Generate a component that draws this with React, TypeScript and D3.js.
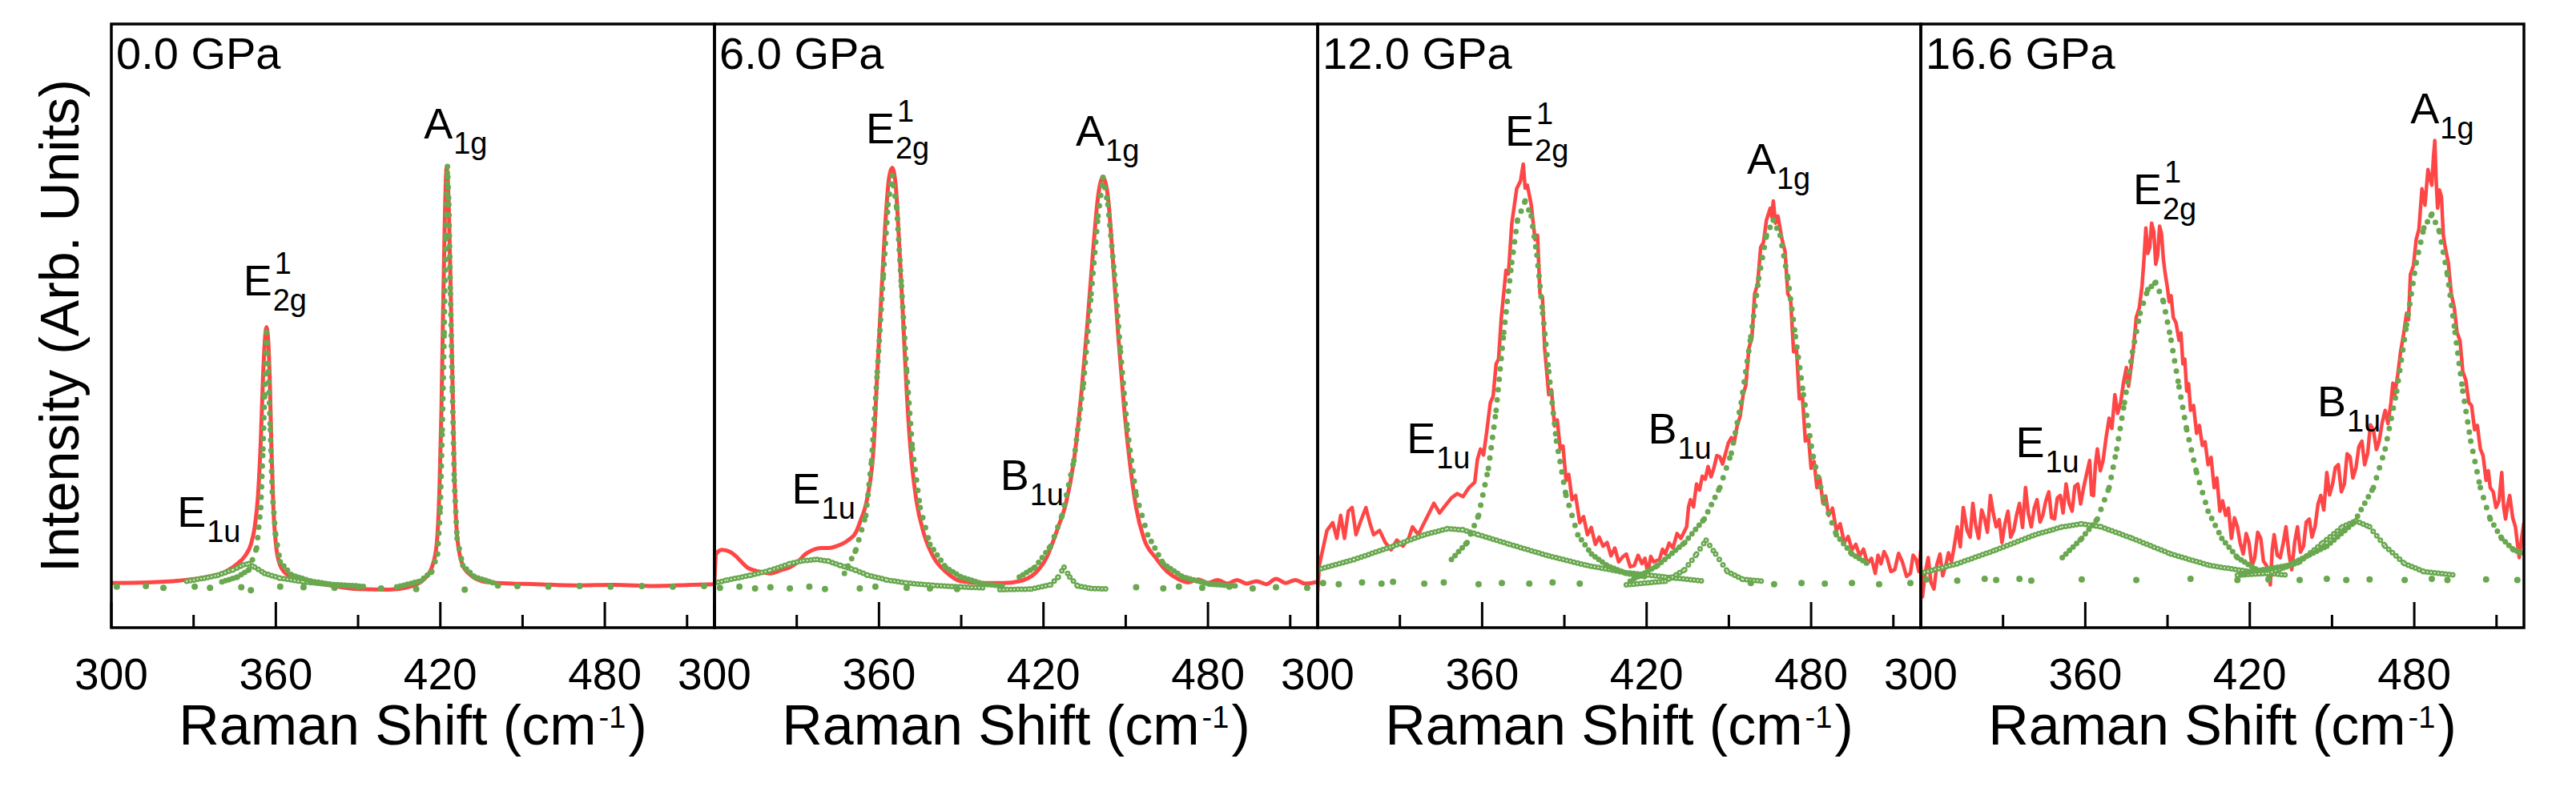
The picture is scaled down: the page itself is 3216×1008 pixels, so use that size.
import React from "react";
import * as d3 from "d3";

type Pt = [number, number];

const PRESSURES = ["0.0 GPa", "6.0 GPa", "12.0 GPa", "16.6 GPa"];
const MAJOR_TICKS = [300, 360, 420, 480];
const MINOR_TICKS = [330, 390, 450, 510];

// ---- 0.0 GPa ----
const spec0: Pt[] = [
  [300, 7.4], [313.3, 7.5], [324.7, 7.8], [334.6, 8.4], [341.7, 9.3], [346.0, 10.6], [348.8, 11.9],
  [350.9, 13.8], [352.3, 16.7], [353.5, 21.9], [354.5, 30.9], [355.3, 41.2], [356.0, 47.6], [356.6, 49.8],
  [357.3, 46.9], [357.9, 39.2], [358.4, 29.6], [359.1, 19.9], [360.1, 13.5], [361.6, 10.3], [364.4, 8.7],
  [370.1, 7.7], [378.6, 7.1], [389.9, 6.4], [401.3, 6.3], [409.8, 6.9], [414.0, 8.0], [416.9, 10.0],
  [418.6, 13.5], [419.7, 23.2], [420.4, 36.0], [421.0, 52.1], [421.6, 66.9], [422.3, 76.2], [423.1, 69.5],
  [423.8, 55.3], [424.5, 39.2], [425.2, 24.4], [426.2, 14.8], [428.2, 10.3], [431.1, 8.7], [435.3, 7.7],
  [441.0, 7.4], [455.2, 7.2], [469.4, 7.0], [483.5, 7.1], [497.7, 6.9], [511.9, 7.1], [520, 7.2],
];
const e1u0: Pt[] = [
  [327.5, 7.7], [333.9, 8.2], [338.9, 8.7], [344.5, 9.6], [348.1, 10.4], [350.2, 10.6], [352.3, 10.0],
  [355.9, 9.0], [361.6, 8.2], [370.1, 7.6], [378.6, 7.2], [389.9, 6.9],
];
const e2g0: Pt[] = [
  [340.3, 7.6], [346.0, 8.4], [350.2, 9.6], [353.0, 13.2], [354.5, 19.9], [355.3, 29.6], [355.9, 38.6],
  [356.6, 48.9], [357.3, 42.4], [358.0, 32.8], [358.7, 22.5], [359.9, 15.4], [361.6, 10.9], [365.8, 8.7],
  [372.9, 7.7], [381.4, 7.1], [392.8, 6.8],
];
const a1g0: Pt[] = [
  [404.1, 6.75], [412.6, 7.7], [416.9, 9.3], [419.0, 12.2], [420.0, 19.9], [420.7, 32.8], [421.4, 48.9],
  [422.0, 65.0], [422.6, 76.4], [423.1, 70.1], [423.7, 55.3], [424.4, 39.2], [425.1, 24.4], [426.1, 14.8],
  [428.2, 10.3], [432.5, 8.4], [439.6, 7.4],
];
const base0: Pt[] = [
  [302.0, 6.8], [312.6, 6.9], [319.0, 6.6], [330.4, 6.8], [336.0, 6.6], [347.4, 6.7], [350.9, 6.2],
  [361.6, 6.8], [370.1, 6.7], [381.4, 6.6], [389.9, 6.8], [398.4, 6.5], [411.2, 6.4], [428.9, 6.3],
  [441.0, 7.0], [448.1, 6.9], [459.4, 6.8], [470.8, 6.9], [482.1, 6.8], [493.5, 6.9], [504.8, 6.8], [516.2, 6.9],
];

// ---- 6.0 GPa ----
const spec1: Pt[] = [
  [300, 7.7], [300.6, 12.2], [302.7, 12.9], [305.5, 12.6], [307.7, 11.9], [309.8, 10.9], [311.9, 10.0],
  [316.2, 9.3], [320.4, 9.0], [324.7, 9.6], [327.5, 10.0], [330.4, 10.9], [333.2, 12.2], [336.0, 12.9],
  [338.9, 13.2], [341.7, 13.2], [344.5, 13.5], [348.8, 14.5], [351.6, 15.8], [353.0, 17.4], [355.9, 21.9],
  [358.0, 29.6], [359.4, 42.4], [360.9, 55.3], [362.3, 66.9], [363.7, 74.6], [364.8, 76.2], [366.1, 73.3],
  [367.2, 65.0], [368.7, 52.1], [370.1, 39.2], [371.5, 29.6], [373.6, 21.2], [376.5, 15.4], [380.0, 11.6],
  [384.3, 9.3], [389.9, 7.7], [398.4, 7.4], [405.5, 7.4], [411.2, 7.7], [416.9, 9.0], [421.1, 11.6],
  [425.4, 16.7], [428.2, 20.6], [431.1, 27.7], [433.9, 39.2], [436.0, 50.2], [438.2, 63.0], [439.9, 71.4],
  [441.7, 74.6], [443.5, 71.4], [445.2, 61.7], [447.4, 47.6], [449.5, 36.0], [451.6, 27.0], [453.8, 19.9],
  [456.6, 14.8], [460.9, 11.6], [465.1, 9.3], [469.4, 8.0], [472.9, 7.5], [476.5, 8.0], [480.0, 7.4],
  [483.5, 7.9], [487.1, 7.3], [490.6, 7.9], [494.2, 7.3], [497.7, 7.7], [501.3, 7.2], [504.8, 8.1],
  [508.4, 7.4], [511.9, 7.9], [515.5, 7.3], [520, 7.6],
];
const e1u1: Pt[] = [
  [300, 7.4], [304.8, 7.9], [313.3, 8.7], [320.4, 9.5], [327.5, 10.6], [332.5, 11.1], [337.4, 11.3],
  [341.7, 11.0], [346.0, 10.3], [351.6, 9.5], [355.9, 8.7], [363.0, 7.9], [370.1, 7.4], [380.0, 7.0],
  [389.9, 6.75], [398.4, 6.6],
];
const e2g1: Pt[] = [
  [347.4, 9.0], [351.6, 12.9], [355.2, 18.6], [357.3, 27.7], [359.4, 42.4], [361.6, 58.5], [363.3, 70.1],
  [364.8, 74.9], [366.5, 69.5], [368.2, 56.6], [370.1, 42.4], [372.2, 29.6], [375.0, 19.9], [378.6, 13.8],
  [384.3, 10.0], [389.9, 8.4], [398.4, 7.2], [405.5, 6.9],
];
const b1u1: Pt[] = [
  [404.1, 6.3], [415.5, 6.4], [422.6, 7.1], [425.4, 8.4], [427.5, 10.0], [429.6, 8.4], [432.5, 6.9],
  [437.4, 6.5], [443.8, 6.4],
];
const a1g1: Pt[] = [
  [411.2, 8.4], [416.9, 10.0], [422.6, 13.5], [426.8, 18.6], [431.1, 27.7], [434.6, 40.5], [437.4, 55.3],
  [439.9, 68.2], [441.7, 74.6], [443.5, 70.1], [445.9, 58.5], [448.1, 45.7], [450.6, 32.8], [453.8, 21.9],
  [458.0, 15.4], [463.7, 10.6], [470.8, 8.4], [480.7, 7.2], [490.6, 6.9],
];
const base1: Pt[] = [
  [302.0, 6.6], [309.1, 6.8], [314.8, 6.5], [320.4, 6.7], [327.5, 6.5], [334.6, 6.8], [340.3, 6.4],
  [353.0, 6.5], [358.7, 6.8], [370.1, 6.6], [378.6, 6.5], [388.5, 6.4], [453.8, 6.7], [463.7, 6.5],
  [469.4, 6.8], [477.9, 6.6], [487.8, 6.8], [496.3, 6.5], [504.8, 6.7], [516.2, 6.6],
];

// ---- 12.0 GPa ----
const spec2: Pt[] = [
  [300, 5.8], [300.6, 10.3], [303.4, 16.1], [305.5, 17.4], [307.0, 14.8], [308.4, 18.6], [309.8, 14.8],
  [311.2, 19.3], [312.6, 19.9], [314.0, 15.4], [315.5, 17.4], [317.6, 19.9], [319.0, 17.4], [320.4, 15.4],
  [322.6, 16.1], [324.7, 14.1], [326.8, 12.9], [328.9, 14.5], [331.1, 13.5], [333.2, 14.8], [334.6, 16.7],
  [336.7, 15.4], [338.9, 17.4], [341.0, 19.3], [342.4, 20.6], [344.5, 19.0], [346.7, 20.3], [348.8, 21.5],
  [350.9, 22.2], [353.0, 21.7], [355.2, 23.2], [357.3, 24.1], [358.3, 27.9], [359.4, 29.6], [360.5, 28.6],
  [361.6, 32.2], [363.0, 37.3], [364.0, 38.3], [365.1, 43.7], [366.0, 44.5], [367.0, 51.4], [368.7, 59.2],
  [369.6, 58.6], [370.8, 66.9], [372.6, 72.7], [374.0, 74.0], [375.0, 76.8], [375.7, 72.8], [376.5, 73.3],
  [377.9, 70.1], [379.3, 64.3], [380.2, 65.0], [381.1, 55.3], [382.0, 54.8], [382.8, 46.3], [384.3, 38.6],
  [385.3, 39.4], [386.4, 33.4], [387.4, 34.4], [388.5, 29.6], [389.5, 30.1], [390.6, 24.4], [391.6, 25.4],
  [392.8, 21.2], [394.1, 21.9], [395.6, 17.4], [397.0, 18.4], [398.4, 15.4], [399.8, 16.6], [401.3, 13.8],
  [402.7, 15.0], [404.1, 13.5], [405.6, 14.1], [407.0, 11.9], [408.4, 13.2], [409.8, 10.9], [411.2, 11.7],
  [412.6, 12.2], [414.0, 10.1], [415.5, 10.3], [416.9, 12.0], [418.3, 10.6], [419.4, 11.5], [420.4, 9.0],
  [421.5, 11.8], [422.6, 10.9], [424.7, 11.3], [425.8, 13.0], [426.8, 12.2], [428.2, 14.0], [429.6, 13.2],
  [431.1, 15.6], [432.5, 14.8], [434.6, 16.7], [435.3, 20.0], [436.0, 21.2], [437.1, 20.0], [438.2, 23.8],
  [439.3, 22.8], [440.3, 25.1], [441.4, 24.6], [442.4, 26.7], [443.5, 25.0], [444.5, 26.4], [445.6, 28.5],
  [446.7, 28.3], [447.7, 27.1], [448.8, 28.9], [449.8, 30.6], [450.9, 31.5], [452.0, 30.8], [453.0, 33.4],
  [454.1, 35.0], [455.2, 38.6], [456.2, 40.2], [457.3, 46.3], [458.4, 48.0], [459.4, 55.3], [460.5, 57.0],
  [461.6, 63.0], [462.6, 63.8], [463.7, 67.5], [465.1, 69.5], [465.7, 68.0], [466.2, 70.7], [467.0, 67.0],
  [467.9, 68.2], [469.4, 64.3], [470.5, 62.3], [471.5, 55.3], [472.5, 54.5], [473.6, 45.7], [474.6, 46.6],
  [475.7, 37.9], [476.8, 38.5], [477.9, 30.9], [479.0, 31.8], [480.0, 26.4], [481.1, 27.5], [482.1, 23.2],
  [483.2, 24.8], [484.3, 20.6], [485.3, 21.8], [486.4, 18.6], [487.8, 19.8], [489.2, 16.1], [490.6, 17.2],
  [492.1, 14.1], [493.5, 15.1], [494.9, 12.9], [496.3, 13.8], [497.7, 11.9], [499.1, 13.0], [500.6, 10.6],
  [502.0, 11.5], [503.4, 9.0], [504.4, 12.0], [505.5, 10.6], [506.6, 12.6], [507.7, 11.6], [509.1, 9.3],
  [510.5, 9.6], [511.9, 12.3], [513.3, 10.9], [514.8, 8.5], [516.2, 9.0], [517.2, 12.0], [518.3, 11.3],
  [519.3, 9.3], [520, 12.9],
];
const e1u2: Pt[] = [
  [300, 9.6], [313.3, 11.3], [327.5, 13.5], [338.9, 15.4], [347.4, 16.4], [353.0, 16.2], [358.7, 15.4],
  [370.1, 13.8], [384.3, 11.9], [398.4, 10.3], [412.6, 9.1], [426.8, 8.4], [441.0, 7.7],
];
const e2g2: Pt[] = [
  [348.8, 11.3], [354.5, 14.1], [358.7, 18.6], [362.3, 26.4], [365.1, 36.0], [367.9, 48.9], [370.8, 60.5],
  [372.9, 67.5], [375.7, 70.7], [377.9, 68.2], [380.0, 61.7], [382.1, 52.1], [384.3, 42.4], [387.1, 30.9],
  [390.6, 21.9], [394.9, 15.4], [399.9, 12.2], [405.5, 10.3], [412.6, 9.0], [419.7, 8.4],
];
const b1u2: Pt[] = [
  [412.6, 7.1], [426.8, 7.7], [433.9, 9.6], [438.2, 12.2], [441.7, 14.5], [445.2, 12.2], [449.5, 9.3],
  [455.2, 8.0], [462.3, 7.7],
];
const a1g2: Pt[] = [
  [414.0, 7.7], [424.0, 10.3], [433.9, 14.1], [441.0, 18.0], [446.7, 23.2], [450.9, 28.9], [454.5, 37.3],
  [458.0, 48.2], [460.9, 57.9], [463.7, 65.0], [466.2, 67.5], [468.7, 65.0], [471.5, 57.9], [474.3, 48.2],
  [477.2, 38.6], [480.7, 28.3], [485.0, 20.6], [489.2, 15.4], [494.9, 12.2], [500.6, 10.6],
];
const base2: Pt[] = [
  [302.0, 7.4], [307.7, 7.2], [316.2, 7.5], [323.3, 7.3], [327.5, 7.6], [338.9, 7.3], [346.0, 7.5],
  [358.7, 7.2], [367.2, 7.4], [377.2, 7.3], [385.7, 7.5], [395.6, 7.3], [458.0, 7.4], [466.5, 7.2],
  [476.5, 7.4], [485.0, 7.3], [494.9, 7.4], [504.8, 7.2], [516.2, 7.4],
];

// ---- 16.6 GPa ----
const spec3: Pt[] = [
  [300, 10.3], [300.6, 5.1], [301.6, 9.0], [302.7, 11.6], [303.7, 7.5], [304.8, 6.4], [305.9, 10.5],
  [307.0, 12.2], [308.0, 8.6], [309.1, 10.3], [310.1, 12.4], [311.2, 10.9], [312.2, 13.5], [313.3, 16.7],
  [314.4, 13.4], [315.5, 19.9], [316.9, 16.1], [318.0, 15.0], [319.0, 20.6], [320.0, 17.0], [321.1, 14.8],
  [322.2, 19.5], [323.3, 18.0], [324.3, 15.8], [325.4, 21.9], [326.5, 18.8], [327.5, 16.7], [328.6, 17.9],
  [329.6, 14.1], [330.7, 17.2], [331.8, 19.3], [332.8, 15.0], [333.9, 16.1], [335.0, 18.8], [336.0, 20.6],
  [337.1, 16.6], [338.2, 23.2], [339.2, 19.0], [340.3, 16.7], [341.4, 19.8], [342.4, 21.2], [343.5, 17.5],
  [344.5, 18.6], [345.6, 21.0], [346.7, 22.5], [347.7, 18.2], [348.8, 18.0], [349.8, 21.5], [350.9, 21.9],
  [351.9, 19.0], [353.0, 23.8], [354.1, 20.6], [355.2, 19.3], [356.2, 23.4], [357.3, 23.8], [358.3, 20.5],
  [359.4, 23.2], [360.5, 25.5], [361.6, 27.7], [362.3, 22.0], [363.0, 21.9], [363.7, 27.0], [364.4, 29.6],
  [365.5, 26.0], [366.5, 27.7], [367.6, 31.5], [368.7, 34.7], [369.7, 33.0], [370.8, 38.6], [371.8, 35.5],
  [372.9, 37.3], [374.0, 40.8], [375.0, 43.1], [375.8, 40.0], [376.5, 42.4], [377.6, 46.5], [378.6, 51.4],
  [379.7, 53.0], [380.7, 56.6], [381.4, 61.0], [382.1, 66.2], [382.8, 62.0], [383.5, 63.0], [384.2, 67.0],
  [385.0, 65.6], [385.7, 60.2], [386.4, 61.7], [387.1, 66.5], [387.8, 65.3], [388.5, 61.0], [389.2, 58.5],
  [389.9, 56.5], [390.6, 54.0], [391.3, 55.0], [392.1, 51.4], [393.1, 50.5], [394.2, 47.6], [394.9, 48.8],
  [395.6, 43.7], [396.3, 44.5], [397.0, 39.2], [397.7, 40.4], [398.4, 36.0], [399.5, 36.8], [400.6, 32.2],
  [401.6, 33.5], [402.7, 30.2], [403.7, 30.8], [404.8, 27.0], [405.9, 28.2], [407.0, 23.2], [408.0, 24.8],
  [409.1, 19.3], [410.1, 21.0], [411.2, 18.6], [412.2, 19.8], [413.3, 14.8], [414.4, 18.2], [415.5, 16.7],
  [416.5, 14.0], [417.6, 12.2], [418.7, 15.6], [419.7, 14.1], [420.8, 10.2], [421.8, 11.6], [422.9, 15.8],
  [424.0, 14.8], [425.0, 11.0], [426.1, 10.3], [427.5, 7.1], [428.2, 13.0], [428.9, 15.4], [430.0, 12.0],
  [431.1, 11.6], [432.2, 14.0], [433.2, 16.7], [434.3, 12.2], [435.3, 9.6], [436.4, 14.2], [437.4, 16.7],
  [438.5, 12.5], [439.6, 13.5], [440.6, 17.5], [441.7, 18.0], [442.7, 15.0], [443.8, 16.7], [444.9, 20.5],
  [445.9, 21.9], [447.0, 19.5], [448.1, 25.7], [449.1, 22.0], [450.2, 23.8], [451.2, 26.5], [452.3, 27.0],
  [453.4, 22.5], [454.5, 23.8], [455.5, 28.8], [456.6, 28.3], [457.6, 24.8], [458.7, 26.4], [459.8, 30.0],
  [460.9, 30.9], [461.9, 27.0], [463.0, 28.9], [464.0, 33.6], [465.1, 32.8], [466.2, 29.5], [467.2, 30.9],
  [468.3, 34.0], [469.4, 36.0], [470.4, 33.8], [471.5, 37.3], [472.2, 40.5], [472.9, 38.6], [474.0, 42.0],
  [475.0, 45.7], [476.1, 48.6], [477.2, 52.1], [477.9, 51.0], [478.6, 58.5], [479.7, 60.0], [480.7, 64.3],
  [481.7, 66.0], [482.8, 72.7], [483.9, 70.0], [485.0, 75.9], [485.7, 74.5], [486.4, 73.3], [487.0, 78.0],
  [487.5, 80.7], [488.0, 74.0], [488.5, 69.5], [489.2, 72.5], [489.9, 71.4], [490.6, 65.0], [491.3, 63.0],
  [492.4, 60.5], [493.5, 55.3], [494.6, 53.0], [495.6, 48.9], [496.7, 47.5], [497.7, 42.4], [498.8, 41.0],
  [499.9, 37.3], [500.9, 36.8], [502.0, 32.8], [503.0, 33.5], [504.1, 29.6], [505.1, 28.5], [506.2, 24.4],
  [507.0, 26.0], [507.7, 23.2], [508.8, 22.5], [509.8, 19.9], [510.9, 21.0], [511.9, 25.7], [512.6, 20.0],
  [513.3, 18.0], [514.1, 20.5], [514.8, 21.9], [515.9, 18.2], [516.9, 16.7], [517.6, 14.0], [518.3, 11.6],
  [519.2, 15.0], [520, 17.4],
];
const e1u3: Pt[] = [
  [300, 9.0], [313.3, 10.6], [327.5, 12.9], [341.7, 15.4], [351.6, 16.7], [358.7, 17.2], [365.8, 16.7],
  [377.2, 14.8], [391.3, 12.2], [405.5, 10.3], [419.7, 9.3], [433.9, 8.7],
];
const e2g3: Pt[] = [
  [351.6, 11.6], [358.7, 14.8], [364.4, 18.0], [368.7, 23.2], [371.5, 29.6], [374.3, 37.3], [377.2, 45.7],
  [380.0, 52.1], [382.8, 56.0], [385.7, 57.2], [388.5, 54.0], [391.3, 47.6], [394.2, 39.9], [397.0, 32.8],
  [400.6, 25.7], [404.8, 19.3], [409.8, 14.8], [415.5, 11.6], [422.6, 9.6],
];
const b1u3: Pt[] = [
  [415.5, 8.7], [426.8, 9.0], [438.2, 10.9], [446.7, 14.1], [453.8, 16.7], [458.7, 17.7], [463.7, 16.7],
  [469.4, 13.5], [476.5, 10.6], [483.5, 9.3], [494.9, 8.7],
];
const a1g3: Pt[] = [
  [417.0, 9.0], [433.9, 10.3], [448.1, 13.5], [458.0, 17.4], [465.1, 23.2], [469.4, 29.6], [473.6, 39.2],
  [477.2, 50.2], [480.7, 60.5], [483.5, 66.2], [486.4, 68.5], [489.2, 65.6], [492.1, 58.5], [494.9, 48.9],
  [497.7, 39.2], [500.6, 30.9], [504.1, 23.2], [507.7, 18.0], [511.9, 14.8], [516.2, 12.9], [520, 12.2],
];
const base3: Pt[] = [
  [302.0, 8.0], [313.3, 7.8], [323.3, 8.1], [327.5, 7.9], [336.0, 8.1], [340.3, 7.8], [358.7, 8.0],
  [378.6, 7.9], [398.4, 8.1], [415.5, 7.9], [426.8, 8.0], [438.2, 7.9], [448.1, 8.1], [455.2, 7.9],
  [463.7, 8.0], [476.5, 7.9], [486.4, 8.1], [492.1, 7.9], [506.2, 8.0], [517.6, 7.9],
];

// mode labels: [mode, wavenumber, intensity] of the letter's baseline start
const labels0: [string, number, number][] = [["E1u", 324.0, 16.7], ["E2g", 348.1, 55.0], ["A1g", 414.0, 81.0]];
const labels1: [string, number, number][] = [["E1u", 328.2, 20.6], ["E2g", 355.2, 80.3], ["B1u", 404.2, 22.8], ["A1g", 431.8, 79.9]];
const labels2: [string, number, number][] = [["E1u", 332.5, 28.9], ["E2g", 368.4, 79.9], ["B1u", 420.5, 30.5], ["A1g", 456.6, 75.2]];
const labels3: [string, number, number][] = [["E1u", 334.6, 28.3], ["E2g", 377.4, 70.1], ["B1u", 444.6, 35.0], ["A1g", 478.6, 83.5]];

// fits: [points, open circles?]
const PANELS = [
  { pressure: PRESSURES[0], spectrum: spec0, fits: [[e1u0, true], [e2g0, false], [a1g0, false]], base: base0, labels: labels0, noisy: false },
  { pressure: PRESSURES[1], spectrum: spec1, fits: [[e1u1, true], [e2g1, false], [b1u1, true], [a1g1, false]], base: base1, labels: labels1, noisy: false },
  { pressure: PRESSURES[2], spectrum: spec2, fits: [[e1u2, true], [e2g2, false], [b1u2, true], [a1g2, false]], base: base2, labels: labels2, noisy: true },
  { pressure: PRESSURES[3], spectrum: spec3, fits: [[e1u3, true], [e2g3, false], [b1u3, true], [a1g3, false]], base: base3, labels: labels3, noisy: true },
] as { pressure: string; spectrum: Pt[]; fits: [Pt[], boolean][]; base: Pt[]; labels: [string, number, number][]; noisy: boolean }[];

const MODE_TEXT: Record<string, [string, string, string | null]> = {
  A1g: ["A", "1g", null],
  E2g: ["E", "2g", "1"],
  E1u: ["E", "1u", null],
  B1u: ["B", "1u", null],
};

const W = 3216;
const H = 1008;
const LEFT = 139;
const PW = 753;
const TOP = 30;
const BOTTOM = 784;
const RED = "#ff4646";
const GREEN = "#69a84f";
const GREEN_IN = "#f2f8ef";
const FONT = "'Liberation Sans', Arial, Helvetica, sans-serif";
const STEP = 4.5;

const y = d3.scaleLinear().domain([0, 100]).range([BOTTOM, TOP]);

// fit curve drawn as a row of small markers, spaced evenly in x like the sampled fit
function FitCurve({ pts, x, open }: { pts: Pt[]; x: d3.ScaleLinear<number, number>; open: boolean }) {
  const segs = d3.pairs(pts).map(([a, b]) => {
    const p: Pt = [x(a[0]), y(a[1])];
    const q: Pt = [x(b[0]), y(b[1])];
    const len = Math.hypot(q[0] - p[0], q[1] - p[1]);
    const run = Math.max(Math.abs(q[0] - p[0]), 0.01);
    const step = Math.max(STEP, Math.min(13, (STEP * len) / run));
    return { d: d3.line()([p, q]) || "", step };
  });
  return (
    <g fill="none" strokeLinecap="round">
      {segs.map((s, i) => (
        <path key={`o${i}`} d={s.d} stroke={GREEN} strokeWidth={7} strokeDasharray={`0 ${s.step}`} />
      ))}
      {open &&
        segs.map((s, i) => (
          <path key={`i${i}`} d={s.d} stroke={GREEN_IN} strokeWidth={2} strokeDasharray={`0 ${s.step}`} />
        ))}
    </g>
  );
}

function ModeLabel({ mode, px, py }: { mode: string; px: number; py: number }) {
  const [main, sub, sup] = MODE_TEXT[mode];
  return (
    <g fontFamily={FONT} fill="#000">
      <text x={px} y={py} fontSize={54}>{main}</text>
      <text x={px + 37} y={py + 19} fontSize={38}>{sub}</text>
      {sup && <text x={px + 39} y={py - 27} fontSize={38}>{sup}</text>}
    </g>
  );
}

function Panel({ idx }: { idx: number }) {
  const p = PANELS[idx];
  const x0 = LEFT + idx * PW;
  const x = d3.scaleLinear().domain([300, 520]).range([x0, x0 + PW]);
  const line = d3
    .line<Pt>()
    .x((d) => x(d[0]))
    .y((d) => y(d[1]))
    .curve(p.noisy ? d3.curveLinear : d3.curveMonotoneX);
  const clipId = `clip-${idx}`;
  // axis title: main part ends where the superscript begins
  const titleJoin = x0 + PW / 2 + 229;
  return (
    <g>
      <defs>
        <clipPath id={clipId}>
          <rect x={x0} y={TOP} width={PW} height={BOTTOM - TOP} />
        </clipPath>
      </defs>
      <g clipPath={`url(#${clipId})`}>
        <path
          d={line(p.spectrum) || ""}
          fill="none"
          stroke={RED}
          strokeWidth={p.noisy ? 4.5 : 5}
          strokeLinejoin="round"
        />
        {p.fits.map(([f, open], i) => (
          <FitCurve key={i} pts={f} x={x} open={open} />
        ))}
        {p.base.map((d, i) => (
          <circle key={i} cx={x(d[0])} cy={y(d[1])} r={4} fill={GREEN} />
        ))}
      </g>
      {MAJOR_TICKS.map((t) => (
        <line key={t} x1={x(t)} x2={x(t)} y1={BOTTOM} y2={BOTTOM - 32} stroke="#000" strokeWidth={3} />
      ))}
      {MINOR_TICKS.map((t) => (
        <line key={t} x1={x(t)} x2={x(t)} y1={BOTTOM} y2={BOTTOM - 16} stroke="#000" strokeWidth={3} />
      ))}
      {MAJOR_TICKS.map((t) => (
        <text key={t} x={x(t)} y={861} fontSize={55} textAnchor="middle" fontFamily={FONT}>
          {t}
        </text>
      ))}
      <g fontFamily={FONT}>
        <text x={titleJoin} y={930} fontSize={70} textAnchor="end">Raman Shift (cm</text>
        <text x={titleJoin + 3} y={909} fontSize={38}>-1</text>
        <text x={titleJoin + 40} y={930} fontSize={70}>)</text>
      </g>
      <text x={x0 + 6} y={86} fontSize={56} fontFamily={FONT}>
        {p.pressure}
      </text>
      {p.labels.map(([m, wn, v]) => (
        <ModeLabel key={m} mode={m} px={x(wn)} py={y(v)} />
      ))}
      <rect x={x0} y={TOP} width={PW} height={BOTTOM - TOP} fill="none" stroke="#000" strokeWidth={3.5} />
    </g>
  );
}

export default function App() {
  return (
    <div style={{ position: "absolute", left: 0, top: 0 }}>
      <svg width={W} height={H} viewBox={`0 0 ${W} ${H}`} style={{ display: "block", background: "#fff" }}>
        <rect width={W} height={H} fill="#fff" />
        {PANELS.map((_, i) => (
          <Panel key={i} idx={i} />
        ))}
        <text transform="translate(98, 407) rotate(-90)" fontSize={68} textAnchor="middle" fontFamily={FONT}>
          Intensity (Arb. Units)
        </text>
      </svg>
    </div>
  );
}
